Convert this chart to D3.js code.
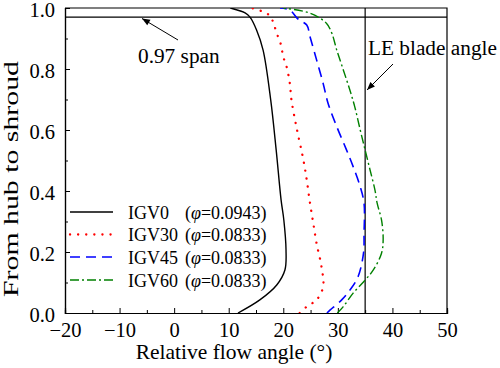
<!DOCTYPE html>
<html>
<head>
<meta charset="utf-8">
<script src="https://cdn.jsdelivr.net/npm/d3@7"></script>
<style>
  body { margin: 0; background: #fff; }
  svg text { font-family: "Liberation Serif", "Times New Roman", serif; fill: #000; }
</style>
</head>
<body>
<svg id="chart" width="500" height="368"></svg>
<script>
// span positions (hub = 0, shroud = 1) and relative flow angle for each case
const igv0Span  = [0, 0.043, 0.092, 0.141, 0.207, 0.305, 0.37, 0.534, 0.698, 0.862, 0.928, 0.97, 0.984, 1.0];
const igv0Angle = [11.7, 15.7, 18.8, 20.3, 20.5, 20.1, 19.6, 18.7, 17.7, 16.3, 15.1, 13.9, 13.0, 10.3];

const igv30Span  = [0, 0.021, 0.043, 0.086, 0.152, 0.228, 0.294, 0.36, 0.436, 0.5, 0.611, 0.698, 0.753, 0.808, 0.84, 0.884, 0.917, 0.95, 0.974, 0.988, 0.996, 1.0];
const igv30Angle = [23.0, 24.3, 26.1, 27.3, 27.0, 26.1, 25.5, 24.9, 24.3, 23.7, 22.4, 21.5, 21.2, 20.6, 20.0, 19.5, 18.8, 18.2, 17.6, 16.3, 14.8, 14.3];

const igv45Span  = [0, 0.01, 0.043, 0.075, 0.119, 0.196, 0.26, 0.36, 0.414, 0.48, 0.534, 0.611, 0.688, 0.753, 0.83, 0.906, 0.944, 0.962, 0.993, 1.0];
const igv45Angle = [28.0, 28.6, 30.7, 32.2, 33.7, 34.7, 34.8, 34.8, 34.1, 32.8, 31.6, 29.8, 28.2, 27.3, 26.1, 24.9, 24.3, 22.8, 21.2, 19.4];

const igv60Span  = [0, 0.021, 0.065, 0.108, 0.141, 0.196, 0.24, 0.305, 0.36, 0.403, 0.469, 0.534, 0.6, 0.676, 0.731, 0.797, 0.862, 0.917, 0.95, 0.983, 1.0];
const igv60Angle = [29.9, 31.0, 32.8, 35.0, 36.5, 38.0, 38.3, 38.0, 37.2, 36.8, 35.9, 35.0, 34.1, 33.1, 32.2, 31.0, 29.8, 28.9, 27.9, 24.9, 20.0];

const seriesNames = ["IGV0", "IGV30", "IGV45", "IGV60"];
const flowCoeffs = ["0.0943", "0.0833", "0.0833", "0.0833"];

const xTicks = [-20, -10, 0, 10, 20, 30, 40, 50];
const yTicks = [0.0, 0.2, 0.4, 0.6, 0.8, 1.0];
const refSpan = 0.97;
const bladeAngle = 35;

const styles = [
  { color: "#000000", dash: null, width: 1.4 },
  { color: "#ff0000", dash: "0.1,8", width: 2.3, cap: "round" },
  { color: "#0000ff", dash: "10,6", width: 1.6 },
  { color: "#008000", dash: "9,3,2,3", width: 1.4 }
];

const svg = d3.select("#chart");
const margin = { left: 65, right: 53, top: 8, bottom: 55 };
const W = 500, H = 368;

const x = d3.scaleLinear().domain([-20, 50]).range([margin.left, W - margin.right]);
const y = d3.scaleLinear().domain([0, 1]).range([H - margin.bottom, margin.top]);

const defs = svg.append("defs");
defs.append("marker")
  .attr("id", "arrow")
  .attr("viewBox", "0 0 10 10")
  .attr("refX", 10).attr("refY", 5)
  .attr("markerWidth", 10).attr("markerHeight", 8)
  .attr("markerUnits", "userSpaceOnUse")
  .attr("orient", "auto")
  .append("path")
  .attr("d", "M0,1 L10,5 L0,9 Z")
  .attr("fill", "#000");

defs.append("clipPath").attr("id", "plotclip")
  .append("rect")
  .attr("x", x(-20)).attr("y", y(1))
  .attr("width", x(50) - x(-20)).attr("height", y(0) - y(1));

// axes, ticks pointing in
svg.append("g")
  .attr("transform", `translate(0,${y(0)})`)
  .call(d3.axisBottom(x).tickValues(xTicks).tickSize(-5).tickPadding(9)
    .tickFormat(d => d < 0 ? "\u2212" + Math.abs(d) : d));
svg.append("g")
  .attr("transform", `translate(0,${y(0)})`)
  .call(d3.axisBottom(x).tickValues(d3.range(-15, 50, 10)).tickSize(-3).tickFormat(""));

const yAxis = svg.append("g")
  .attr("transform", `translate(${x(-20)},0)`)
  .call(d3.axisLeft(y).tickValues(yTicks).tickSize(-5).tickPadding(10).tickFormat(d3.format(".1f")));
yAxis.selectAll(".tick text").attr("dy", "0.4em");
svg.append("g")
  .attr("transform", `translate(${x(-20)},0)`)
  .call(d3.axisLeft(y).tickValues([0.1, 0.3, 0.5, 0.7, 0.9]).tickSize(-3).tickFormat(""));

svg.selectAll(".domain").attr("stroke", "#000").attr("stroke-width", 1.2);
svg.selectAll(".tick line").attr("stroke", "#000").attr("stroke-width", 1);
svg.selectAll(".tick text").attr("font-size", 20.5);

// top and right frame
svg.append("path")
  .attr("d", `M${x(-20)},${y(1)}H${x(50)}V${y(0)}`)
  .attr("fill", "none").attr("stroke", "#000").attr("stroke-width", 1.2);

// reference lines
svg.append("line")
  .attr("x1", x(-20)).attr("x2", x(50))
  .attr("y1", y(refSpan)).attr("y2", y(refSpan))
  .attr("stroke", "#000").attr("stroke-width", 1.2);
svg.append("line")
  .attr("x1", x(bladeAngle)).attr("x2", x(bladeAngle))
  .attr("y1", y(0)).attr("y2", y(1))
  .attr("stroke", "#000").attr("stroke-width", 1.2);

// curves
const allSeries = [
  d3.zip(igv0Angle, igv0Span),
  d3.zip(igv30Angle, igv30Span),
  d3.zip(igv45Angle, igv45Span),
  d3.zip(igv60Angle, igv60Span)
];

const line = d3.line()
  .x(d => x(d[0]))
  .y(d => y(d[1]))
  .curve(d3.curveCatmullRom.alpha(0.5));

svg.append("g").attr("clip-path", "url(#plotclip)")
  .selectAll("path")
  .data(allSeries)
  .join("path")
  .attr("d", line)
  .attr("fill", "none")
  .attr("stroke", (d, i) => styles[i].color)
  .attr("stroke-width", (d, i) => styles[i].width)
  .attr("stroke-dasharray", (d, i) => styles[i].dash)
  .attr("stroke-linecap", (d, i) => styles[i].cap || "butt");

// legend
const legend = svg.append("g");
const rowY = [212, 234.5, 257, 280];
seriesNames.forEach((name, i) => {
  legend.append("line")
    .attr("x1", 70).attr("x2", 113)
    .attr("y1", rowY[i]).attr("y2", rowY[i])
    .attr("stroke", styles[i].color)
    .attr("stroke-width", styles[i].width)
    .attr("stroke-dasharray", styles[i].dash)
    .attr("stroke-linecap", styles[i].cap || "butt");
  legend.append("text")
    .attr("x", 128).attr("y", rowY[i] + 6.5)
    .attr("font-size", 18)
    .text(name);
  const t = legend.append("text")
    .attr("x", 185).attr("y", rowY[i] + 6.5)
    .attr("font-size", 18);
  t.append("tspan").text("(");
  t.append("tspan").attr("font-style", "italic").text("\u03c6");
  t.append("tspan").text("=" + flowCoeffs[i] + ")");
});

// annotations
svg.append("text").attr("x", 138).attr("y", 63).attr("font-size", 21.3).text("0.97 span");
svg.append("line")
  .attr("x1", 178).attr("y1", 40).attr("x2", 142).attr("y2", 18.5)
  .attr("stroke", "#000").attr("stroke-width", 1)
  .attr("marker-end", "url(#arrow)");

svg.append("text").attr("x", 368).attr("y", 55).attr("font-size", 21.3).text("LE blade angle");
svg.append("line")
  .attr("x1", 393).attr("y1", 64).attr("x2", 367).attr("y2", 90)
  .attr("stroke", "#000").attr("stroke-width", 1)
  .attr("marker-end", "url(#arrow)");

// axis titles
svg.append("text")
  .attr("x", 234).attr("y", 359)
  .attr("text-anchor", "middle").attr("font-size", 21.5)
  .text("Relative flow angle (\u00b0)");
svg.append("text")
  .attr("transform", "translate(18,297) rotate(-90)")
  .attr("font-size", 21)
  .attr("textLength", 236)
  .attr("lengthAdjust", "spacingAndGlyphs")
  .text("From hub to shroud");
</script>
</body>
</html>
